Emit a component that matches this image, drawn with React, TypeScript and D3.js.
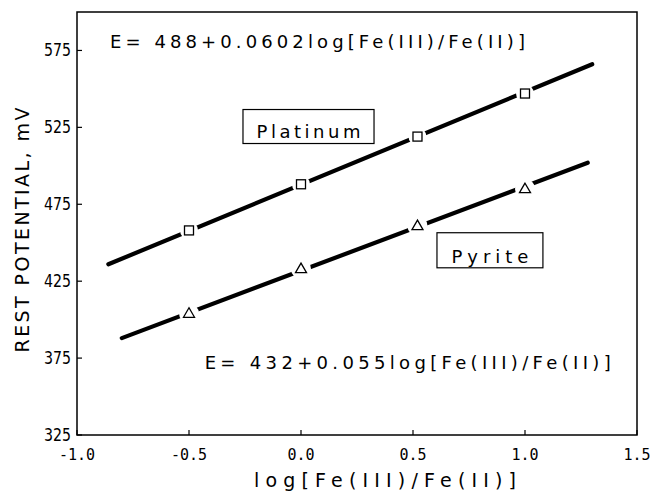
import * as d3 from "d3";

// Rest potential of platinum and pyrite electrodes vs log[Fe(III)/Fe(II)].

const xTicks = [-1.0, -0.5, 0.0, 0.5, 1.0, 1.5];
const yTicks = [325, 375, 425, 475, 525, 575];

const platinumX = [-0.5, 0.0, 0.52, 1.0];
const platinumY = [458, 488, 519, 547];
const pyriteX = [-0.5, 0.0, 0.52, 1.0];
const pyriteY = [404, 433, 461, 485];

// fitted lines, as drawn (start / end points)
const platinumLine: [number, number][] = [
  [-0.86, 436],
  [1.3, 566],
];
const pyriteLine: [number, number][] = [
  [-0.8, 388],
  [1.28, 502],
];

const W = 650;
const H = 491;
const FONT = "'DejaVu Sans', sans-serif";

export default function App() {
  const x = d3.scaleLinear().domain([-1.0, 1.5]).range([77, 637]);
  const y = d3.scaleLinear().domain([325, 600]).range([435, 12]);
  const line = d3
    .line<[number, number]>()
    .x((d) => x(d[0]))
    .y((d) => y(d[1]));

  const [x0, x1] = x.range();
  const [y0, y1] = y.range();

  const square = (cx: number, cy: number, k: number) => (
    <g key={k}>
      <circle cx={cx} cy={cy} r={9} fill="#fff" />
      <rect x={cx - 4.5} y={cy - 4.5} width={9} height={9} fill="#fff" stroke="#000" strokeWidth={1.3} />
    </g>
  );
  const triangle = (cx: number, cy: number, k: number) => {
    const s = 11;
    const h = s * 0.866;
    const pts = `${cx},${cy - h * 0.6} ${cx - s / 2},${cy + h * 0.4} ${cx + s / 2},${cy + h * 0.4}`;
    return (
      <g key={k}>
        <circle cx={cx} cy={cy} r={10} fill="#fff" />
        <polygon points={pts} fill="#fff" stroke="#000" strokeWidth={1.3} />
      </g>
    );
  };

  return (
    <svg
      width={W}
      height={H}
      style={{ position: "absolute", left: 0, top: 0, background: "#fff" }}
    >
      {/* frame */}
      <rect x={x0} y={y1} width={x1 - x0} height={y0 - y1} fill="none" stroke="#000" strokeWidth={1.5} />

      {/* x ticks */}
      {xTicks.map((t) => (
        <g key={t}>
          <line x1={x(t)} x2={x(t)} y1={y0} y2={y0 - 5} stroke="#000" strokeWidth={1.2} />
          <text
            x={x(t)}
            y={y0 + 25}
            textAnchor="middle"
            fontFamily="'DejaVu Sans Mono', monospace"
            fontSize={15}
          >
            {t.toFixed(1)}
          </text>
        </g>
      ))}

      {/* y ticks */}
      {yTicks.map((t) => (
        <g key={t}>
          <line x1={x0} x2={x0 + 5} y1={y(t)} y2={y(t)} stroke="#000" strokeWidth={1.2} />
          <text
            x={71}
            y={y(t) + 6}
            textAnchor="end"
            fontFamily={FONT}
            fontSize={17}
            textLength={27}
            lengthAdjust="spacingAndGlyphs"
          >
            {t}
          </text>
        </g>
      ))}

      {/* axis titles */}
      <text
        x={385}
        y={487}
        textAnchor="middle"
        fontFamily={FONT}
        fontSize={19}
        textLength={262}
        lengthAdjust="spacing"
      >
        log[Fe(III)/Fe(II)]
      </text>
      <text
        transform="translate(29,230) rotate(-90)"
        textAnchor="middle"
        fontFamily={FONT}
        fontSize={19}
        textLength={245}
        lengthAdjust="spacing"
      >
        REST POTENTIAL, mV
      </text>

      {/* fitted lines */}
      <path d={line(platinumLine) ?? ""} fill="none" stroke="#000" strokeWidth={4.2} strokeLinecap="round" />
      <path d={line(pyriteLine) ?? ""} fill="none" stroke="#000" strokeWidth={4.2} strokeLinecap="round" />

      {/* data points */}
      {platinumX.map((v, i) => square(x(v), y(platinumY[i]), i))}
      {pyriteX.map((v, i) => triangle(x(v), y(pyriteY[i]), i))}

      {/* equations */}
      <text
        x={x(-0.853)}
        y={y(576.5)}
        fontFamily={FONT}
        fontSize={18}
        textLength={415}
        lengthAdjust="spacing"
      >
        E= 488+0.0602log[Fe(III)/Fe(II)]
      </text>
      <text
        x={x(-0.43)}
        y={y(368)}
        fontFamily={FONT}
        fontSize={18}
        textLength={406}
        lengthAdjust="spacing"
      >
        E= 432+0.055log[Fe(III)/Fe(II)]
      </text>

      {/* labels in boxes */}
      <rect
        x={x(-0.259)}
        y={y(536.6)}
        width={x(0.326) - x(-0.259)}
        height={y(514.5) - y(536.6)}
        fill="#fff"
        stroke="#000"
        strokeWidth={1.2}
      />
      <text
        x={(x(-0.259) + x(0.326)) / 2}
        y={y(518)}
        textAnchor="middle"
        fontFamily={FONT}
        fontSize={18}
        textLength={104}
        lengthAdjust="spacing"
      >
        Platinum
      </text>
      <rect
        x={x(0.607)}
        y={y(456.5)}
        width={x(1.08) - x(0.607)}
        height={y(433.7) - y(456.5)}
        fill="#fff"
        stroke="#000"
        strokeWidth={1.2}
      />
      <text
        x={(x(0.607) + x(1.08)) / 2}
        y={y(437)}
        textAnchor="middle"
        fontFamily={FONT}
        fontSize={18}
        textLength={77}
        lengthAdjust="spacing"
      >
        Pyrite
      </text>
    </svg>
  );
}
